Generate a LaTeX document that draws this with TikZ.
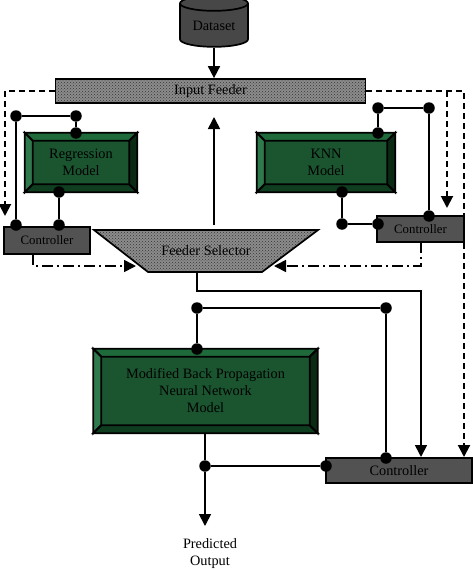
\documentclass[tikz,border=0pt]{standalone}
\usepackage{fontspec}
\setmainfont{Liberation Serif}
\usetikzlibrary{arrows.meta,patterns,shapes.geometric}
\definecolor{greenmid}{HTML}{1A5530}
\definecolor{greenleft}{HTML}{2F7A4C}
\definecolor{greentop}{HTML}{1F6A3A}
\definecolor{greenbot}{HTML}{0F3D1F}
\definecolor{greenright}{HTML}{0A2A14}
\newcommand{\bevel}[1]{
	  \path (#1.north west) ++(8,8) coordinate (#1nw);
	  \path (#1.north east) ++(-8,8) coordinate (#1ne);
	  \path (#1.south west) ++(8,-8) coordinate (#1sw);
	  \path (#1.south east) ++(-8,-8) coordinate (#1se);
	  \draw[bevelline,fill=greentop] (#1.north west) -- (#1.north east) -- (#1ne) -- (#1nw) -- cycle;
	  \draw[bevelline,fill=greenleft] (#1.north west) -- (#1.south west) -- (#1sw) -- (#1nw) -- cycle;
	  \draw[bevelline,fill=greenbot] (#1.south west) -- (#1.south east) -- (#1se) -- (#1sw) -- cycle;
	  \draw[bevelline,fill=greenright] (#1.north east) -- (#1.south east) -- (#1se) -- (#1ne) -- cycle;
}
\begin{document}
\begin{tikzpicture}[x=1pt,y=-1pt,>={Triangle[width=12pt,length=12pt]},
	  every node/.style={font=\fontsize{14.3}{17}\selectfont,align=center},
	  small/.style={font=\fontsize{12.8}{15}\selectfont},
	  bevelline/.style={draw=black,line width=1.8pt},
	  wire/.style={line width=1.7pt},
	  dash wire/.style={line width=2pt,dash pattern=on 6pt off 4pt},
	  dashdot wire/.style={line width=1.7pt,dash pattern=on 11pt off 4pt on 2pt off 4pt},
	  dot/.style={circle,fill=black,minimum size=11.5pt,inner sep=0pt},
	  feeder/.style={draw=black,line width=1.7pt,preaction={fill=gray!90},pattern=crosshatch dots,pattern color=gray!40!black,inner sep=0pt},
	  controller/.style={draw=black,line width=1.7pt,fill=black!68,inner sep=0pt},
	  model/.style={draw=black,fill=greenmid,inner sep=0pt}]
	  \useasboundingbox (0,0) rectangle (473,570);
	  \node[cylinder,shape border rotate=90,aspect=0.35,draw=black,line width=1.7pt,fill=black!72,minimum width=68pt,minimum height=51pt,inner sep=0pt] (dataset) at (214,25.5) {Dataset};
	  \node[feeder,minimum width=310pt,minimum height=24pt] (input) at (210.5,91) {Input Feeder};
	  \node[model,minimum width=112pt,minimum height=59pt] (regression) at (81,162.5) {Regression\\Model};
	  \node[model,minimum width=138pt,minimum height=59pt] (knn) at (326,162.5) {KNN\\Model};
	  \node[model,minimum width=224pt,minimum height=84pt] (backprop) at (205.5,391) {Modified Back Propagation\\Neural Network\\Model};
	  \bevel{regression}
	  \bevel{knn}
	  \bevel{backprop}
	  \node[controller,small,minimum width=86pt,minimum height=27pt] (ctrlleft) at (47,240.5) {Controller};
	  \node[controller,small,minimum width=87pt,minimum height=26pt] (ctrlright) at (420.5,229) {Controller};
	  \node[controller,minimum width=146pt,minimum height=25pt] (ctrlbottom) at (399,470.5) {Controller};
	  \draw[feeder] (94,230) -- (318,230) -- (262,272) -- (148,272) -- cycle;
	  \node (selector) at (206,251) {Feeder Selector};
	  \node (predicted) at (210,554) {Predicted\\Output};
	  \node[dot] (r1) at (16,116) {};
	  \node[dot] (r2) at (76,116) {};
	  \node[dot] (r3) at (76,133) {};
	  \node[dot] (r4) at (59,192) {};
	  \node[dot] (r5) at (59,225) {};
	  \node[dot] (r6) at (16,225) {};
	  \node[dot] (k1) at (378,108) {};
	  \node[dot] (k2) at (429,108) {};
	  \node[dot] (k3) at (378,133) {};
	  \node[dot] (k4) at (342,192) {};
	  \node[dot] (k5) at (342,224) {};
	  \node[dot] (k6) at (378,224) {};
	  \node[dot] (k7) at (429,216) {};
	  \node[dot] (b1) at (197,308) {};
	  \node[dot] (b2) at (386,308) {};
	  \node[dot] (b3) at (197,349) {};
	  \node[dot] (b4) at (205,466) {};
	  \node[dot] (b5) at (326,466) {};
	  \node[dot] (b6) at (386,458) {};
	  \coordinate (upstart) at (214,225);
	  \coordinate (upend) at (214,117);
	  \coordinate (leftrail) at (5,91);
	  \coordinate (leftend) at (5,216);
	  \coordinate (rightrail) at (464,91);
	  \coordinate (rightbranch) at (447,91);
	  \coordinate (rightend) at (447,208);
	  \coordinate (rightdown) at (464,457);
	  \coordinate (selstart) at (197,272);
	  \coordinate (selbend) at (197,291);
	  \coordinate (selturn) at (421,291);
	  \coordinate (selend) at (421,457);
	  \coordinate (backstart) at (205,433);
	  \coordinate (backend) at (205,526);
	  \coordinate (lstart) at (33,254);
	  \coordinate (lturn) at (33,266);
	  \coordinate (lend) at (136,266);
	  \coordinate (rstart) at (421,242);
	  \coordinate (rturn) at (421,266);
	  \coordinate (rend) at (274,266);
	  \draw[wire,->] (dataset.south) -- (dataset.south |- input.north);
	  \draw[wire,->] (upstart) -- (upend);
	  \draw[wire] (r6) -- (r1) -- (r2) -- (r3);
	  \draw[wire] (r4) -- (r5);
	  \draw[wire] (k3) -- (k1) -- (k2) -- (k7);
	  \draw[wire] (k4) -- (k5) -- (k6);
	  \draw[wire] (b3) -- (b1) -- (b2) -- (b6);
	  \draw[wire] (backstart) -- (b4);
	  \draw[wire,->] (b4) -- (backend);
	  \draw[wire] (b4) -- (b5);
	  \draw[wire,->] (selstart) -- (selbend) -- (selturn) -- (selend);
	  \draw[dash wire,->] (input.west) -- (leftrail) -- (leftend);
	  \draw[dash wire,->] (input.east) -- (rightrail) -- (rightdown);
	  \draw[dash wire,->] (rightbranch) -- (rightend);
	  \draw[dashdot wire,->] (lstart) -- (lturn) -- (lend);
	  \draw[dashdot wire,->] (rstart) -- (rturn) -- (rend);
	\end{tikzpicture}
\end{document}
